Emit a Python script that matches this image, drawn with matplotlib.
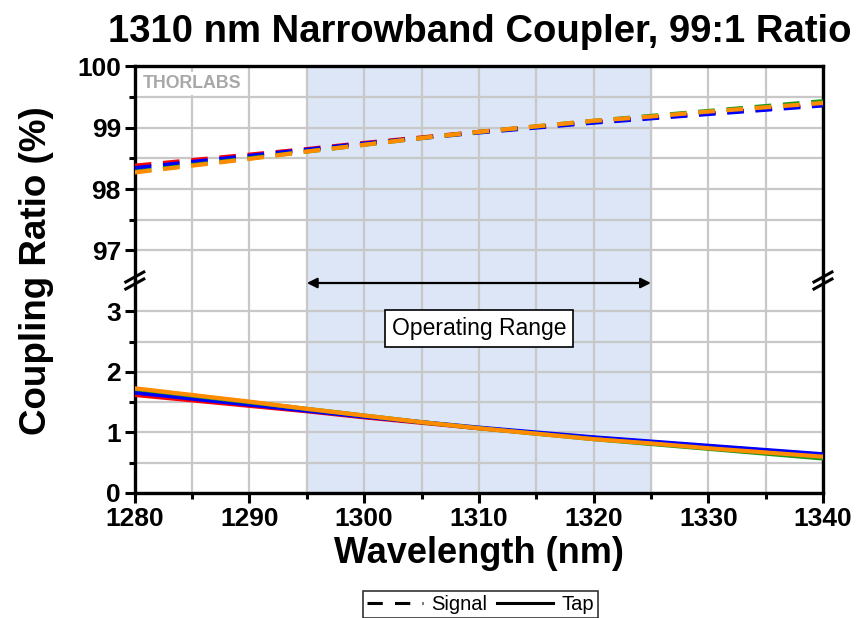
import numpy as np
import matplotlib.pyplot as plt
from matplotlib.lines import Line2D

plt.rcParams['font.family'] = ['Liberation Sans', 'DejaVu Sans']

wl = [1280, 1285, 1290, 1295, 1300, 1305, 1310, 1315, 1320, 1325, 1330, 1335, 1340]

# signal port (%), one curve per sample
sig_red = [98.38, 98.47, 98.56, 98.65, 98.75, 98.84, 98.93, 99.01, 99.09, 99.16, 99.23, 99.30, 99.37]
sig_blue = [98.34, 98.44, 98.54, 98.64, 98.74, 98.83, 98.92, 99.00, 99.08, 99.15, 99.22, 99.29, 99.36]
sig_green = [98.28, 98.39, 98.50, 98.61, 98.72, 98.83, 98.93, 99.02, 99.11, 99.19, 99.27, 99.35, 99.43]
sig_orange = [98.27, 98.38, 98.49, 98.61, 98.72, 98.83, 98.93, 99.02, 99.11, 99.18, 99.26, 99.33, 99.40]

# tap port (%)
tap_red = [1.62, 1.53, 1.44, 1.35, 1.25, 1.16, 1.07, 0.99, 0.91, 0.84, 0.77, 0.70, 0.63]
tap_blue = [1.66, 1.56, 1.46, 1.36, 1.26, 1.17, 1.08, 1.00, 0.92, 0.85, 0.78, 0.71, 0.64]
tap_green = [1.72, 1.61, 1.50, 1.39, 1.28, 1.17, 1.07, 0.98, 0.89, 0.81, 0.73, 0.65, 0.57]
tap_orange = [1.73, 1.62, 1.51, 1.39, 1.28, 1.17, 1.07, 0.98, 0.89, 0.82, 0.74, 0.67, 0.60]

op_range = [1295, 1325]
colors = ['#ff0000', '#0000ff', '#1a9a1a', '#ff8c00']

fig = plt.figure(figsize=(8.64, 6.18), dpi=100)
ax_top = fig.add_axes([0.156, 0.545, 0.7965, 0.348])
ax_bot = fig.add_axes([0.156, 0.2023, 0.7965, 0.3427])

gridc = '#c8c8c8'
for ax in (ax_top, ax_bot):
    ax.axvspan(op_range[0], op_range[1], color='#dce6f6', zorder=0)
    ax.set_xlim(1280, 1340)
    ax.set_xticks(np.arange(1280, 1341, 10))
    ax.set_xticks(np.arange(1285, 1340, 10), minor=True)
    ax.grid(True, which='both', color=gridc, lw=1.6, zorder=1)
    ax.set_axisbelow(True)
    for s in ax.spines.values():
        s.set_linewidth(2.4)
    ax.tick_params(which='both', direction='out', width=2.2, labelsize=19, pad=3)
    ax.tick_params(which='major', length=7)
    ax.tick_params(which='minor', length=4)

ax_top.set_ylim(96.5, 100)
ax_top.set_yticks([97, 98, 99, 100])
ax_top.set_yticks([97.5, 98.5, 99.5], minor=True)
ax_top.spines['bottom'].set_visible(False)
ax_top.tick_params(axis='x', which='both', bottom=False, labelbottom=False)

ax_bot.set_ylim(0, 3.5)
ax_bot.set_yticks([0, 1, 2, 3])
ax_bot.set_yticks([0.5, 1.5, 2.5], minor=True)
ax_bot.spines['top'].set_visible(False)

for ax in (ax_top, ax_bot):
    for lab in ax.get_yticklabels() + ax.get_xticklabels():
        lab.set_fontweight('bold')

sigs = [sig_red, sig_blue, sig_green, sig_orange]
taps = [tap_red, tap_blue, tap_green, tap_orange]
for c, s in zip(colors, sigs):
    ax_top.plot(wl, s, color=c, lw=3, ls=(0, (4, 2.8)), zorder=3)
for c, t in zip(colors, taps):
    ax_bot.plot(wl, t, color=c, lw=3, zorder=3)

# operating range arrow + label
ax_bot.annotate('', xy=(op_range[0], 3.47), xytext=(op_range[1], 3.47),
                arrowprops=dict(arrowstyle='<|-|>', color='black', lw=1.6,
                                mutation_scale=15, shrinkA=0, shrinkB=0),
                annotation_clip=False, zorder=5)
ax_bot.text(1310, 2.72, 'Operating Range', ha='center', va='center', fontsize=16.5,
            bbox=dict(boxstyle='square,pad=0.3', fc='white', ec='black', lw=1.2), zorder=5)

# THORLABS mark
ax_top.text(0.012, 0.96, 'THORLABS', transform=ax_top.transAxes, ha='left', va='top',
            fontsize=12.8, fontweight='bold', color='#a8a8a8',
            bbox=dict(fc='white', ec='none', pad=2), zorder=2)

# axis break marks
for xp in (0.156, 0.9525):
    x0 = xp * 864
    for dy in (-3, 4):
        fig.add_artist(Line2D([(x0 - 9) / 864, (x0 + 9) / 864],
                              [(618 - 280 - dy - 5) / 618, (618 - 280 - dy + 5) / 618],
                              color='black', lw=2.2))

fig.text(0.555, 0.948, '1310 nm Narrowband Coupler, 99:1 Ratio', ha='center', va='center',
         fontsize=27.5, fontweight='bold')
fig.text(0.042, 0.562, 'Coupling Ratio (%)', rotation=90, ha='center', va='center',
         fontsize=26.5, fontweight='bold')
fig.text(0.554, 0.105, 'Wavelength (nm)', ha='center', va='center',
         fontsize=26, fontweight='bold')

handles = [Line2D([], [], color='black', lw=2.2, ls=(0, (5, 4))),
           Line2D([], [], color='black', lw=2.2)]
leg = fig.legend(handles, ['Signal', 'Tap'], loc='lower center', bbox_to_anchor=(0.556, -0.016),
                 ncol=2, fontsize=14.5, frameon=True, fancybox=False, edgecolor='black',
                 handlelength=2.8, columnspacing=0.5, handletextpad=0.4, borderpad=0.2)
leg.get_frame().set_linewidth(1.2)

fig.savefig('out.png', dpi=100)
